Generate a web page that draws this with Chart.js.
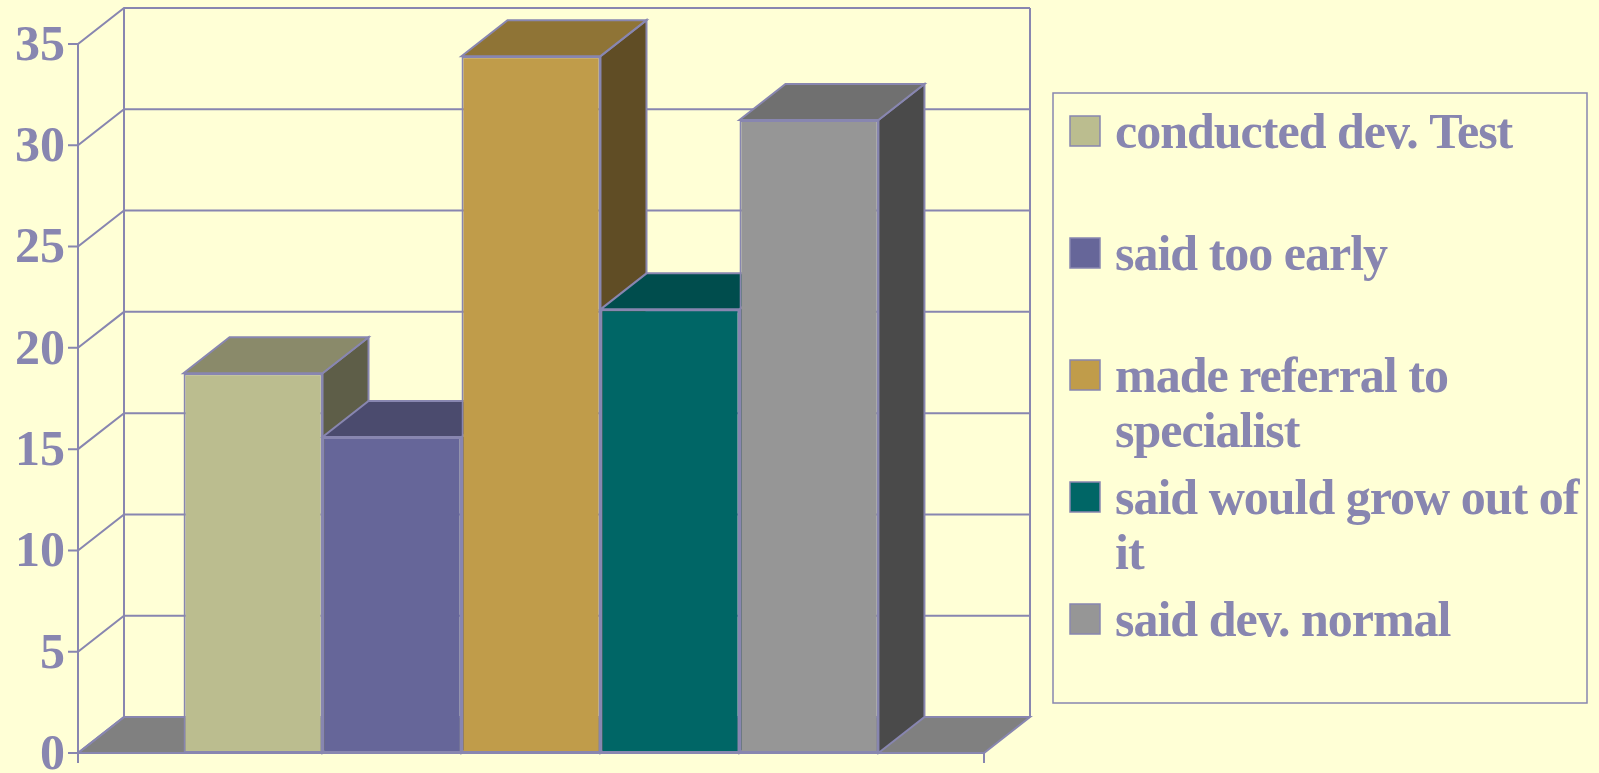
<!DOCTYPE html>
<html>
<head>
<meta charset="utf-8">
<title>Developmental concerns</title>
<script src="https://cdn.jsdelivr.net/npm/chart.js@4.4.1/dist/chart.umd.min.js"></script>
<style>
  html, body { margin: 0; padding: 0; background: #ffffd6; overflow: hidden; }
  canvas { display: block; }
</style>
</head>
<body>
<canvas id="barChart" width="1599" height="773"></canvas>
<script>
// values
const categories = [""];
const seriesLabels = [
  "conducted dev. Test",
  "said too early",
  "made referral to specialist",
  "said would grow out of it",
  "said dev. normal"
];
const seriesValues = [18.75, 15.6, 34.4, 21.9, 31.25];
const yTicks = [0, 5, 10, 15, 20, 25, 30, 35];

// face colours: front, top, side
const frontColors = ["#bbbd8f", "#666699", "#c09c4a", "#006666", "#969696"];
const topColors = ["#8a8a6a", "#4b4b6e", "#8f7436", "#004d4d", "#707070"];
const sideColors = ["#5e5e48", "#383858", "#604d25", "#003535", "#4a4a4a"];

const lineColor = "#8886b0";
const serif = "'Liberation Serif', 'Times New Roman', serif";
const depthX = 46;
const depthY = 36;

function poly(ctx, pts) {
  ctx.beginPath();
  ctx.moveTo(pts[0][0], pts[0][1]);
  for (let i = 1; i < pts.length; i++) ctx.lineTo(pts[i][0], pts[i][1]);
  ctx.closePath();
}

// walls, floor, grid and the top/side faces of the bars
const box3d = {
  id: "box3d",
  beforeDatasetsDraw(chart) {
    const { ctx, chartArea: area } = chart;
    const yScale = chart.scales.y;
    const { left, right, top, bottom } = area;

    ctx.save();
    ctx.lineWidth = 2;
    ctx.strokeStyle = lineColor;

    // floor
    ctx.fillStyle = "#808080";
    poly(ctx, [[left, bottom], [right, bottom], [right + depthX, bottom - depthY], [left + depthX, bottom - depthY]]);
    ctx.fill();
    ctx.stroke();

    // grid lines on side + back wall
    yScale.ticks.forEach(t => {
      const py = yScale.getPixelForValue(t.value);
      ctx.beginPath();
      ctx.moveTo(left - 10, py);
      ctx.lineTo(left, py);
      ctx.lineTo(left + depthX, py - depthY);
      ctx.lineTo(right + depthX, py - depthY);
      ctx.stroke();
    });

    // wall edges and front axis
    ctx.beginPath();
    ctx.moveTo(left + depthX, top - depthY);
    ctx.lineTo(left + depthX, bottom - depthY);
    ctx.moveTo(right + depthX, top - depthY);
    ctx.lineTo(right + depthX, bottom - depthY);
    ctx.moveTo(left, top);
    ctx.lineTo(left, bottom + 10);
    ctx.moveTo(left, bottom);
    ctx.lineTo(right, bottom);
    ctx.moveTo(right, bottom);
    ctx.lineTo(right, bottom + 10);
    ctx.stroke();

    // bar sides and tops, left to right so later bars cover earlier ones
    chart.data.datasets.forEach((ds, i) => {
      const bar = chart.getDatasetMeta(i).data[0];
      const p = bar.getProps(["x", "y", "base", "width"], true);
      const x1 = p.x - p.width / 2;
      const x2 = p.x + p.width / 2;
      ctx.fillStyle = sideColors[i];
      poly(ctx, [[x2, p.y], [x2 + depthX, p.y - depthY], [x2 + depthX, p.base - depthY], [x2, p.base]]);
      ctx.fill();
      ctx.stroke();
      ctx.fillStyle = topColors[i];
      poly(ctx, [[x1, p.y], [x2, p.y], [x2 + depthX, p.y - depthY], [x1 + depthX, p.y - depthY]]);
      ctx.fill();
      ctx.stroke();
    });
    ctx.restore();
  }
};

function wrapText(ctx, text, maxWidth) {
  const words = text.split(" ");
  const lines = [];
  let line = "";
  words.forEach(w => {
    const test = line ? line + " " + w : w;
    if (line && ctx.measureText(test).width > maxWidth) {
      lines.push(line);
      line = w;
    } else {
      line = test;
    }
  });
  if (line) lines.push(line);
  return lines;
}

// boxed legend on the right, with wrapped labels
const sideLegend = {
  id: "sideLegend",
  afterDraw(chart) {
    const ctx = chart.ctx;
    const boxLeft = 1053, boxTop = 93, boxW = 534, boxH = 610;
    const firstBase = 148, step = 122, lineGap = 55;
    ctx.save();
    ctx.strokeStyle = lineColor;
    ctx.lineWidth = 1.5;
    ctx.strokeRect(boxLeft, boxTop, boxW, boxH);
    ctx.font = "bold 50px " + serif;
    ctx.textBaseline = "alphabetic";
    chart.data.datasets.forEach((ds, i) => {
      const base = firstBase + i * step;
      ctx.fillStyle = ds.backgroundColor;
      ctx.fillRect(1070, base - 32, 30, 30);
      ctx.strokeRect(1070, base - 32, 30, 30);
      ctx.letterSpacing = "0px";
      const lines = wrapText(ctx, ds.label, 495);
      ctx.letterSpacing = "-1px";
      ctx.fillStyle = lineColor;
      lines.forEach((ln, k) => ctx.fillText(ln, 1115, base + k * lineGap));
    });
    ctx.letterSpacing = "0px";
    ctx.restore();
  }
};

const ctx = document.getElementById("barChart").getContext("2d");

new Chart(ctx, {
  type: "bar",
  data: {
    labels: categories,
    datasets: seriesLabels.map((label, i) => ({
      label: label,
      data: [seriesValues[i]],
      backgroundColor: frontColors[i],
      borderColor: lineColor,
      borderWidth: 2,
      borderSkipped: false
    }))
  },
  options: {
    responsive: false,
    animation: false,
    events: [],
    categoryPercentage: 0.767,
    barPercentage: 1,
    layout: {
      padding: { top: 44, bottom: 20, left: 0, right: 615 }
    },
    plugins: {
      legend: { display: false },
      tooltip: { enabled: false }
    },
    scales: {
      x: { display: false },
      y: {
        min: 0,
        max: 35,
        grid: { display: false, drawTicks: false },
        border: { display: false },
        afterBuildTicks: scale => {
          scale.ticks = yTicks.map(v => ({ value: v }));
        },
        afterFit: scale => {
          scale.width = 78;
          scale.paddingTop = 0;
          scale.paddingBottom = 0;
        },
        ticks: {
          padding: 13,
          labelOffset: 3,
          color: lineColor,
          font: { family: serif, size: 50, weight: "bold", lineHeight: 1 }
        }
      }
    }
  },
  plugins: [box3d, sideLegend]
});
</script>
</body>
</html>
